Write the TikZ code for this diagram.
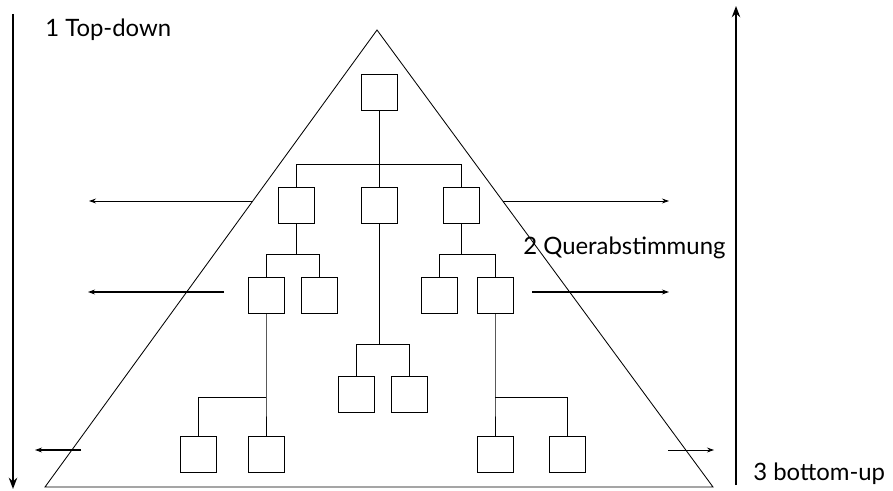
\documentclass[tikz,border=0pt]{standalone}
\usepackage{fontspec}
\setmainfont{Lato}
\usetikzlibrary{arrows.meta, calc}

\begin{document}
\begin{tikzpicture}[x=0.025cm, y=-0.025cm,
    % Define the style for the boxes and the arrows
    unit/.style={draw, line width=0.6pt, inner sep=0pt, minimum size=0.9cm},
    sidearrow/.style={-{Stealth[length=5pt, width=3.5pt]}},
    bigarrow/.style={line width=2pt, -{Stealth[length=8pt, width=6pt]}},
    label/.style={font=\fontsize{17}{20}\selectfont, anchor=base west, inner sep=0pt}
]
\useasboundingbox (0,0) rectangle (893,491);

% Define the points of the triangle
\coordinate (T) at (377,30);
\coordinate (L) at (45,487);
\coordinate (R) at (713,487);

% Draw the triangle
\draw[line width=0.6pt] (T) -- (L) -- (R) -- cycle;

% Add the boxes
\node[unit] (root) at (379,92) {};
\node[unit] (a) at (296,205) {};
\node[unit] (b) at (379,205) {};
\node[unit] (c) at (461,205) {};
\node[unit] (aa) at (266,295) {};
\node[unit] (ab) at (319,295) {};
\node[unit] (ca) at (439,295) {};
\node[unit] (cb) at (495,295) {};
\node[unit] (ba) at (356,394) {};
\node[unit] (bb) at (409,394) {};
\node[unit] (aaa) at (198,454) {};
\node[unit] (aab) at (266,454) {};
\node[unit] (cba) at (495,454) {};
\node[unit] (cbb) at (567,454) {};

% Draw the tree lines
\draw (root.south) -- ++(0,54) coordinate (j0);
\draw (a.north) |- (j0) -| (c.north);
\draw (j0) -- (b.north);
\draw (a.south) -- ++(0,31) coordinate (ja);
\draw (aa.north) |- (ja) -| (ab.north);
\draw (c.south) -- ++(0,31) coordinate (jc);
\draw (ca.north) |- (jc) -| (cb.north);
\draw (b.south) -- ++(0,121) coordinate (jb);
\draw (ba.north) |- (jb) -| (bb.north);
\draw (aa.south) -- ++(0,84) coordinate (jaa) -- (aab.north);
\draw (aaa.north) |- (jaa);
\draw (cb.south) -- ++(0,84) coordinate (jcb) -- (cba.north);
\draw (jcb) -| (cbb.north);

% Draw the side arrows
\draw[sidearrow, line width=0.6pt] (253,201) -- (89,201);
\draw[sidearrow, line width=0.6pt] (503,201) -- (669,201);
\draw[sidearrow, line width=1.3pt] (224,292) -- (88,292);
\draw[sidearrow, line width=1.3pt] (532,292) -- (669,292);
\draw[sidearrow, line width=1.3pt] (81,450) -- (35,450);
\draw[sidearrow, line width=0.6pt] (668,450) -- (714,450);

% Draw the big arrows
\draw[bigarrow] (13,14) -- (13,489);
\draw[bigarrow] (736,485) -- (736,6);

% Add the labels
\node[label] (top) at (45,37) {1 Top-down};
\node[label] (quer) at (523,255) {2 Querabstimmung};
\node[label] (bottom) at (753,480) {3 bottom-up};

\end{tikzpicture}
\end{document}
